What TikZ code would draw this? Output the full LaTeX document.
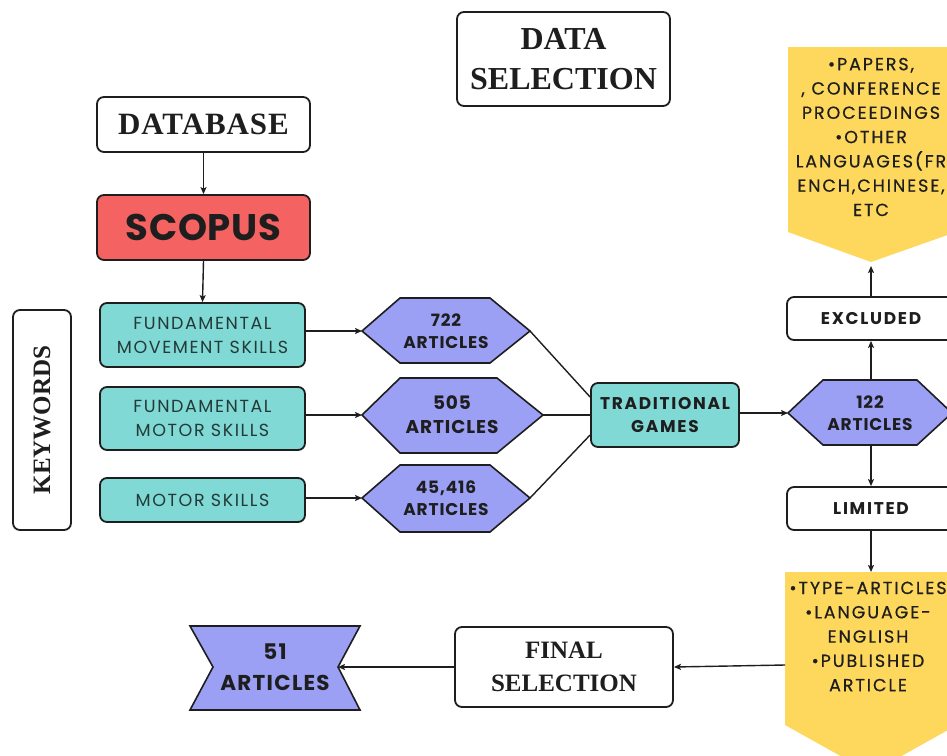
\documentclass[tikz,border=0pt]{standalone}
\usepackage{fontspec}
\setmainfont{Liberation Serif}
\newfontfamily\popt[LetterSpace=9]{Poppins}
\newfontfamily\popb[LetterSpace=10]{Poppins}
\newfontfamily\popy[LetterSpace=11,FakeBold=0.5]{Poppins}
\newfontfamily\poph[LetterSpace=5]{Poppins}
\newfontfamily\popr[LetterSpace=6]{Poppins}
\newfontfamily\pops[LetterSpace=2]{Poppins}
\usetikzlibrary{arrows.meta,calc}
\definecolor{scred}{HTML}{F46262}
\definecolor{tealfill}{HTML}{80D9D4}
\definecolor{purp}{HTML}{9BA0F5}
\definecolor{yel}{HTML}{FDD85D}
\definecolor{ink}{HTML}{1E1E1E}
\definecolor{tealink}{HTML}{243A39}
\tikzset{
  box/.style={draw=ink, line width=1.8pt, rounded corners=7pt, fill=white, inner sep=0pt, align=center, text=ink},
  tealbox/.style={box, fill=tealfill, text=tealink, font=\popt\fontsize{17.5}{24}\selectfont},
  hexshape/.style={draw=ink, line width=1.6pt, fill=purp, line join=miter},
  hextext/.style={align=center, text=ink, inner sep=0pt, font=\poph\bfseries\fontsize{17}{22}\selectfont},
  yelshape/.style={fill=yel, draw=none},
  yeltext/.style={align=center, text=ink, inner sep=0pt, font=\popy\fontsize{17.5}{24.3}\selectfont},
  arr/.style={draw=ink, line width=1.4pt, -{Stealth[length=7pt,width=6pt,inset=1.5pt]}},
  conn/.style={draw=ink, line width=1.4pt},
}
\begin{document}
\begin{tikzpicture}[x=1pt,y=-1pt]
\useasboundingbox (0,0) rectangle (947,755);
\clip (0,0) rectangle (947,755);
\fill[white] (0,0) rectangle (947,755);

% top boxes
\node[box, minimum width=213pt, minimum height=94pt, font=\fontsize{32}{40}\selectfont\bfseries] (ds) at (563.5,59) {DATA\\SELECTION};
\node[box, minimum width=213pt, minimum height=55pt, font=\addfontfeature{LetterSpace=3}\fontsize{31}{31}\selectfont\bfseries] (db) at (203.5,124.5) {DATABASE};
\node[box, fill=scred, minimum width=213pt, minimum height=65pt, font=\pops\bfseries\fontsize{37}{37}\selectfont] (sc) at (203.5,227.5) {SCOPUS};

% keywords
\node[box, rotate=90, minimum width=220pt, minimum height=58pt, font=\fontsize{25}{25}\selectfont\bfseries] (kw) at (42,420) {KEYWORDS};

% teal keyword boxes
\node[tealbox, minimum width=205pt, minimum height=64pt] (k1) at (202.5,335) {FUNDAMENTAL\\MOVEMENT SKILLS};
\node[tealbox, minimum width=205pt, minimum height=63pt] (k2) at (202.5,418.5) {FUNDAMENTAL\\MOTOR SKILLS};
\node[tealbox, minimum width=205pt, minimum height=44pt] (k3) at (202.5,500) {MOTOR SKILLS};

% hexagons
\coordinate (h1w) at (362,331); \coordinate (h1e) at (530,331);
\path[hexshape] (h1w) -- (400,298) -- (490,298) -- (h1e) -- (490,363) -- (400,363) -- cycle;
\node[hextext] (h1) at (446,331) {722\\ARTICLES};

\coordinate (h2w) at (362,415); \coordinate (h2e) at (543,415);
\path[hexshape] (h2w) -- (400,378) -- (497,378) -- (h2e) -- (497,453) -- (400,453) -- cycle;
\node[hextext, font=\poph\bfseries\fontsize{18.5}{24}\selectfont] (h2) at (452,415) {505\\ARTICLES};

\coordinate (h3w) at (362,498); \coordinate (h3e) at (530,498);
\path[hexshape] (h3w) -- (400,465) -- (490,465) -- (h3e) -- (490,532) -- (400,532) -- cycle;
\node[hextext] (h3) at (446,498) {45,416\\ARTICLES};

% traditional games
\node[tealbox, text=ink, minimum width=148pt, minimum height=64pt, font=\popb\bfseries\fontsize{17}{23}\selectfont] (tg) at (665,415) {TRADITIONAL\\GAMES};

% 122 hexagon
\coordinate (h4w) at (788,413); \coordinate (h4n) at (871,380); \coordinate (h4s) at (871,445);
\path[hexshape] (h4w) -- (823,380) -- (917,380) -- (952,413) -- (917,445) -- (823,445) -- cycle;
\node[hextext] (h4) at (870,413) {122\\ARTICLES};

% excluded / limited
\node[box, minimum width=168pt, minimum height=43pt, font=\popb\bfseries\fontsize{17}{17}\selectfont] (ex) at (871,318.5) {EXCLUDED};
\node[box, minimum width=168pt, minimum height=43pt, font=\popb\bfseries\fontsize{17}{17}\selectfont] (lim) at (871,508.5) {LIMITED};

% yellow shapes
\coordinate (y1p) at (871,262);
\path[yelshape] (788,47) -- (956,47) -- (956,232) -- (y1p) -- (788,232) -- cycle;
\node[yeltext] (y1t) at (871,137) {•PAPERS,\\, CONFERENCE\\PROCEEDINGS\\•OTHER\\LANGUAGES(FR\\ENCH,CHINESE,\\ETC};

\coordinate (y2n) at (871,572); \coordinate (y2w) at (785,665);
\path[yelshape] (785,572) -- (957,572) -- (957,725) -- (871,773) -- (785,725) -- cycle;
\node[yeltext] (y2t) at (868,636.5) {•TYPE-ARTICLES\\•LANGUAGE-\\ENGLISH\\•PUBLISHED\\ARTICLE};

% final selection
\node[box, minimum width=218pt, minimum height=80pt, font=\fontsize{25}{33}\selectfont\bfseries] (fin) at (564,667) {FINAL\\SELECTION};

% 51 articles ribbon
\coordinate (a51e) at (338,667);
\path[hexshape] (190,626) -- (360,626) -- (a51e) -- (360,710) -- (190,710) -- (213,667) -- cycle;
\node[hextext, font=\popr\bfseries\fontsize{21.5}{31}\selectfont] (a51) at (275,667) {51\\ARTICLES};

% connectors
\draw[arr] (db.south) -- (sc.north);
\draw[arr] (sc.south) -- (k1.north);
\draw[arr] (k1.east |- h1w) -- (h1w);
\draw[arr] (k2.east |- h2w) -- (h2w);
\draw[arr] (k3.east |- h3w) -- (h3w);
\draw[conn] (h1e) -- ($(tg.west)+(0,-18)$);
\draw[conn] (h2e) -- (tg.west);
\draw[conn] (h3e) -- ($(tg.west)+(0,20)$);
\draw[arr] (tg.east |- h4w) -- (h4w);
\draw[arr] (h4n) -- (ex.south);
\draw[arr] (ex.north) -- ($(y1p)+(0,4)$);
\draw[arr] (h4s) -- (lim.north);
\draw[arr] (lim.south) -- (y2n);
\draw[arr] (y2w) -- (fin.east);
\draw[arr] (fin.west) -- (a51e);
\end{tikzpicture}
\end{document}
